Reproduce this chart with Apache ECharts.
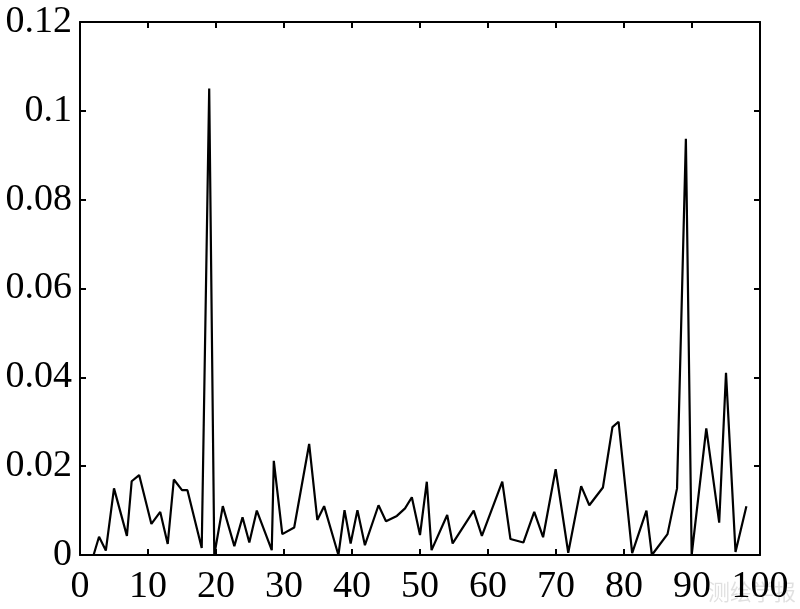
<!DOCTYPE html>
<html>
<head>
<meta charset="utf-8">
<script src="https://cdn.jsdelivr.net/npm/echarts@6/dist/echarts.min.js"></script>
<style>
  html, body { margin: 0; padding: 0; background: #fff; }
  #chart { width: 800px; height: 609px; }
</style>
</head>
<body>
<div id="chart"></div>
<script>
// values
const xValues = [2, 2.8, 3.8, 5, 6.9, 7.6, 8.7, 10.5, 11.8, 12.9, 13.8, 15, 15.8, 17.9, 19, 19.75,
  21, 22.7, 23.9, 24.9, 26, 28.2, 28.5, 29.75, 31.5, 33.7, 34.9, 35.9, 38, 38.9, 39.8, 40.8, 41.9,
  43.9, 45, 46.6, 47.8, 48.8, 50, 51, 51.7, 54, 54.8, 57.9, 59.1, 62.1, 63.3, 65.2, 66.8, 68.1,
  69.95, 71.8, 73.7, 74.9, 76.9, 78.3, 79.2, 81.2, 83.3, 84.1, 86.4, 87.8, 89.1, 89.95, 92.1,
  94, 95, 96.4, 98];
const yValues = [0, 0.0041, 0.001, 0.015, 0.0043, 0.0166, 0.018, 0.007, 0.0097, 0.0025, 0.017,
  0.0146, 0.0146, 0.0016, 0.105, 0, 0.011, 0.002, 0.0085, 0.0028, 0.01, 0.0011, 0.0212, 0.0047,
  0.0062, 0.025, 0.0079, 0.011, 0, 0.0101, 0.0026, 0.0101, 0.0022, 0.0112, 0.0076, 0.0088,
  0.0105, 0.013, 0.0045, 0.0165, 0.0011, 0.009, 0.0026, 0.01, 0.0043, 0.0165, 0.0036, 0.0028,
  0.0097, 0.004, 0.0193, 0.0005, 0.0155, 0.0112, 0.0152, 0.0288, 0.030, 0.0004, 0.01, 0,
  0.0047, 0.015, 0.0937, 0, 0.0285, 0.0073, 0.041, 0.0007, 0.011];
const xTicks = [0, 10, 20, 30, 40, 50, 60, 70, 80, 90, 100];
const yTicks = [0, 0.02, 0.04, 0.06, 0.08, 0.1, 0.12];

const font = 'Liberation Serif';
const chart = echarts.init(document.getElementById('chart'));

const line = { onZero: false, lineStyle: { color: '#000', width: 2 } };
const tick = { show: true, inside: true, length: 6, lineStyle: { color: '#000', width: 2 } };

chart.setOption({
  animation: false,
  backgroundColor: '#fff',
  grid: { left: 80, right: 40, top: 22, bottom: 54 },
  xAxis: [{
    type: 'value', min: xTicks[0], max: xTicks[xTicks.length - 1], interval: 10,
    axisLine: line, axisTick: tick,
    axisLabel: { color: '#000', fontFamily: font, fontSize: 38, margin: 13 },
    splitLine: { show: false }
  }, {
    type: 'value', min: xTicks[0], max: xTicks[xTicks.length - 1], interval: 10, position: 'top',
    axisLine: line, axisTick: tick, axisLabel: { show: false }, splitLine: { show: false }
  }],
  yAxis: [{
    type: 'value', min: yTicks[0], max: yTicks[yTicks.length - 1], interval: 0.02,
    axisLine: Object.assign({ show: true }, line), axisTick: tick,
    axisLabel: {
      color: '#000', fontFamily: font, fontSize: 38, margin: 8,
      formatter: v => String(+v.toFixed(2))
    },
    splitLine: { show: false }
  }, {
    type: 'value', min: yTicks[0], max: yTicks[yTicks.length - 1], interval: 0.02, position: 'right',
    axisLine: Object.assign({ show: true }, line), axisTick: tick,
    axisLabel: { show: false }, splitLine: { show: false }
  }],
  graphic: [{
    type: 'text', right: 4, bottom: 6,
    style: { text: '测绘学报', fill: 'rgba(0,0,0,0.12)', font: '22px "Noto Sans CJK SC"' }
  }],
  series: [{
    type: 'line',
    data: xValues.map((x, i) => [x, yValues[i]]),
    showSymbol: false,
    lineStyle: { color: '#000', width: 2.2 }
  }]
});
</script>
</body>
</html>
